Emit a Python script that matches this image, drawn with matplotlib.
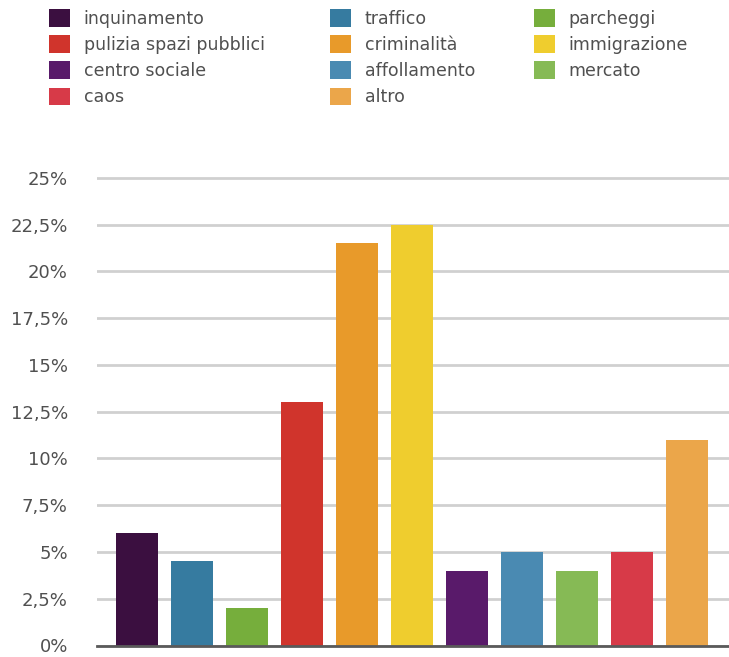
import matplotlib
matplotlib.use('Agg')
import matplotlib.pyplot as plt
from matplotlib.patches import Patch

plt.rcParams['font.family'] = ['DejaVu Sans']

# percentuali per categoria, nell'ordine delle barre
categorie = ['inquinamento', 'traffico', 'parcheggi',
             'pulizia spazi pubblici', 'criminalità', 'immigrazione',
             'centro sociale', 'affollamento', 'mercato',
             'caos', 'altro']
valori = [6, 4.5, 2, 13, 21.5, 22.5, 4, 5, 4, 5, 11]
colori = ['#3b0f40', '#367ba0', '#76ae3c',
          '#d0342c', '#e89a2a', '#efcd2e',
          '#591a6a', '#4a8ab2', '#86ba55',
          '#d73a48', '#eba64a']

yticks = [0, 2.5, 5, 7.5, 10, 12.5, 15, 17.5, 20, 22.5, 25]
ytick_labels = ['0%', '2,5%', '5%', '7,5%', '10%', '12,5%',
                '15%', '17,5%', '20%', '22,5%', '25%']

W, H = 729, 657
fig = plt.figure(figsize=(W / 100, H / 100), dpi=100)

# area del grafico in pixel: sinistra 97, base 645.5, in alto fino a 25,5%
ax = fig.add_axes([97 / W, (H - 645.5) / H, 1 - 97 / W, (645.5 - 168.6) / H])

x = range(len(valori))
ax.bar(x, valori, width=0.764, color=colori, zorder=2)

ax.set_xlim(-0.727, 10.764)
ax.set_ylim(0, 25.5)
ax.set_yticks(yticks)
ax.set_yticklabels(ytick_labels)
ax.set_xticks([])
ax.tick_params(axis='y', length=0, pad=21, labelsize=13, labelcolor='#505050')

ax.yaxis.grid(True, color='#d0d0d0', linewidth=2)
ax.set_axisbelow(True)
for s in ['top', 'right', 'left']:
    ax.spines[s].set_visible(False)
ax.spines['bottom'].set_color('#5a5a5a')
ax.spines['bottom'].set_linewidth(2)
ax.spines['bottom'].set_zorder(3)

# legenda su tre colonne, ogni colonna posizionata a mano
colonne = [[0, 3, 6, 9], [1, 4, 7, 10], [2, 5, 8]]
x_colonne = [49, 330, 534]
for idx, xc in zip(colonne, x_colonne):
    handles = [Patch(facecolor=colori[i], edgecolor='none') for i in idx]
    labels = [categorie[i] for i in idx]
    fig.legend(handles, labels, loc='upper left',
               bbox_to_anchor=(xc / W, 1 - 9 / H),
               frameon=False, borderpad=0, borderaxespad=0,
               fontsize=12.5, labelcolor='#505050',
               handlelength=1.2, handleheight=1.2,
               handletextpad=0.8, labelspacing=0.43)

fig.savefig('out.png', dpi=100)
